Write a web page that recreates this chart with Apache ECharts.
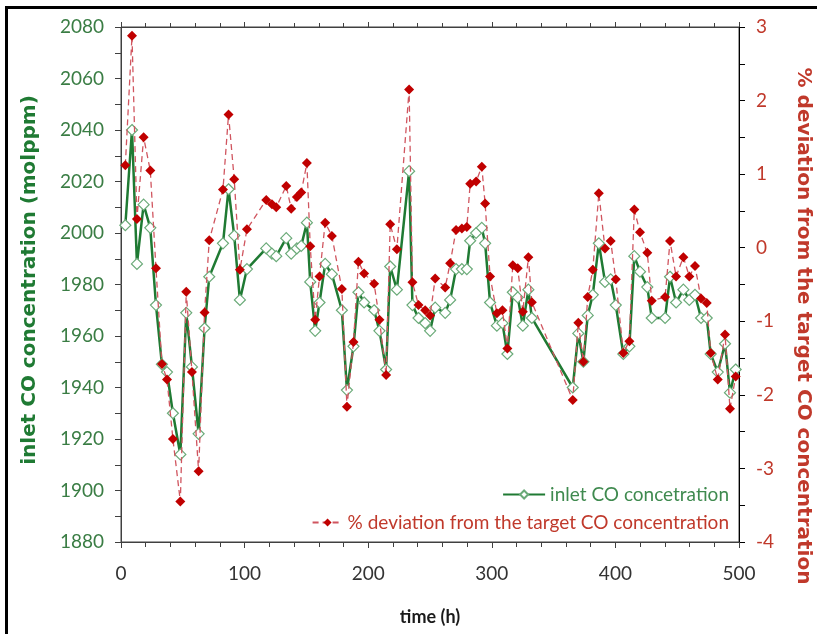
<!DOCTYPE html>
<html>
<head>
<meta charset="utf-8">
<script src="https://cdn.jsdelivr.net/npm/echarts@6/dist/echarts.min.js"></script>
<style>
  html, body { margin: 0; padding: 0; background: #fff; }
  #chart { width: 817px; height: 634px; }
</style>
</head>
<body>
<div id="chart"></div>
<script>
// Sampling times (h)
const timeH = [
  3.5, 8.9, 12.9, 18.3, 23.7, 28.3, 33.1, 37.2, 42.0, 48.0,
  52.8, 57.4, 62.8, 67.6, 71.4, 82.5, 87.0, 91.6, 96.2, 101.9,
  117.5, 122.1, 125.6, 133.7, 137.7, 142.3, 145.8, 150.4, 153.1, 157.1,
  160.6, 165.2, 170.6, 178.7, 182.8, 188.1, 192.1, 196.7, 204.8, 209.1,
  214.5, 217.8, 223.2, 233.1, 235.8, 240.7, 246.1, 250.1, 254.2, 262.3,
  266.3, 271.1, 275.8, 279.8, 282.5, 287.3, 291.9, 294.6, 298.6, 304.1,
  308.6, 312.6, 317.0, 321.0, 325.1, 329.6, 332.4, 365.5, 370.0, 374.1,
  377.6, 381.7, 386.6, 391.6, 396.2, 400.3, 406.4, 411.3, 415.3, 419.9,
  425.8, 429.4, 440.2, 444.2, 449.1, 455.0, 459.8, 464.4, 469.3, 473.9,
  477.1, 482.8, 488.7, 492.7, 497.3
];

// Inlet CO concentration (molppm)
const inletCO = [
  2003, 2040, 1988, 2011, 2002, 1972, 1949, 1946, 1930, 1914,
  1969, 1948, 1922, 1963, 1983, 1996, 2017, 1999, 1974, 1986,
  1994, 1992, 1991, 1998, 1992, 1994, 1995, 2004, 1981, 1962,
  1973, 1988, 1984, 1970, 1939, 1956, 1977, 1973, 1970, 1962,
  1947, 1987, 1978, 2024, 1972, 1967, 1965, 1962, 1971, 1969,
  1974, 1986, 1986, 1986, 1997, 2000, 2002, 1996, 1973, 1964,
  1965, 1953, 1977, 1975, 1964, 1978, 1967, 1940, 1961, 1950,
  1968, 1976, 1996, 1981, 1982, 1972, 1953, 1956, 1991, 1985,
  1979, 1967, 1967, 1983, 1973, 1978, 1974, 1976, 1967, 1967,
  1953, 1946, 1957, 1938, 1947
];

// Deviation from the target CO concentration (%)
const deviationPct = [
  1.12, 2.88, 0.39, 1.50, 1.05, -0.28, -1.58, -1.79, -2.60, -3.45,
  -0.60, -1.69, -3.04, -0.88, 0.10, 0.79, 1.81, 0.93, -0.30, 0.25,
  0.65, 0.59, 0.55, 0.84, 0.53, 0.69, 0.75, 1.15, 0.02, -0.98,
  -0.39, 0.34, 0.16, -0.56, -2.16, -1.28, -0.19, -0.35, -0.49, -0.98,
  -1.73, 0.32, -0.02, 2.15, -0.47, -0.78, -0.85, -0.92, -0.42, -0.54,
  -0.21, 0.24, 0.26, 0.28, 0.87, 0.90, 1.10, 0.60, -0.39, -0.89,
  -0.85, -1.37, -0.24, -0.28, -0.87, -0.13, -0.74, -2.07, -1.02, -1.55,
  -0.67, -0.30, 0.74, -0.01, 0.09, -0.43, -1.43, -1.27, 0.52, 0.21,
  -0.07, -0.72, -0.67, 0.09, -0.39, -0.13, -0.39, -0.25, -0.69, -0.75,
  -1.43, -1.79, -1.18, -2.19, -1.75
];

const seriesNames = ['inlet CO concetration', '% deviation from the target CO concentration'];
const leftTitle = 'inlet CO concentration (molppm)';
const rightTitle = '% deviation from the target CO concentration';

const FONT = 'Lato, "Open Sans", sans-serif';
const TITLE_FONT = 'bold 20px "DejaVu Sans", sans-serif';
const GREEN = '#1f7a33';
const GREEN_TEXT = '#3a7d44';
const RED = '#c00000';
const RED_TEXT = '#c0392b';
const AXIS = '#404040';

const chart = echarts.init(document.getElementById('chart'), null, { renderer: 'canvas' });

const plainNumber = (v) => String(v);

chart.setOption({
  animation: false,
  backgroundColor: '#ffffff',
  grid: {
    left: 121, right: 78, top: 27, bottom: 92, containLabel: false, outerBoundsMode: 'none',
    show: true, borderColor: AXIS, borderWidth: 1, backgroundColor: 'transparent'
  },
  graphic: [
    // frame strips along the top and left edges
    { type: 'rect', shape: { x: 5, y: 6, width: 812, height: 3 }, style: { fill: '#000' }, silent: true },
    { type: 'rect', shape: { x: 5, y: 6, width: 3, height: 628 }, style: { fill: '#000' }, silent: true },
    // axis titles
    {
      type: 'text', x: 30, y: 280, rotation: Math.PI / 2, silent: true,
      style: { text: leftTitle, font: TITLE_FONT, fill: GREEN, align: 'center', verticalAlign: 'middle' }
    },
    {
      type: 'text', x: 803, y: 326, rotation: -Math.PI / 2, silent: true,
      style: { text: rightTitle, font: TITLE_FONT, fill: RED_TEXT, align: 'center', verticalAlign: 'middle' }
    }
  ],
  legend: [
    {
      data: [seriesNames[0]],
      right: 83, top: 480,
      itemWidth: 42, itemHeight: 10,
      textStyle: { color: '#3f8a4f', fontFamily: FONT, fontSize: 19 },
      selectedMode: false
    },
    {
      data: [seriesNames[1]],
      right: 83, top: 508,
      itemWidth: 30, itemHeight: 10,
      textStyle: { color: RED_TEXT, fontFamily: FONT, fontSize: 19 },
      selectedMode: false
    }
  ],
  xAxis: [
    {
      type: 'value', position: 'bottom', min: 0, max: 500, interval: 100,
      name: 'time (h)', nameLocation: 'middle', nameGap: 66,
      nameTextStyle: { color: '#1a1a1a', fontFamily: FONT, fontSize: 18, fontWeight: 'bold' },
      axisLine: { show: true, onZero: false, lineStyle: { color: AXIS, width: 1 } },
      axisTick: { show: true, inside: false, length: 6, lineStyle: { color: AXIS } },
      minorTick: { show: true, splitNumber: 5, length: 5, lineStyle: { color: AXIS } },
      axisLabel: { color: '#333', fontFamily: FONT, fontSize: 19, margin: 22, formatter: plainNumber },
      splitLine: { show: false }
    },
    {
      type: 'value', position: 'top', min: 0, max: 500, interval: 100,
      axisLine: { show: true, onZero: false, lineStyle: { color: AXIS, width: 1 } },
      axisTick: { show: true, inside: false, length: 5, lineStyle: { color: AXIS } },
      minorTick: { show: true, splitNumber: 5, length: 4, lineStyle: { color: AXIS } },
      axisLabel: { show: false },
      splitLine: { show: false }
    }
  ],
  yAxis: [
    {
      type: 'value', position: 'left', min: 1880, max: 2080, interval: 20,
      axisLine: { show: true, onZero: false, lineStyle: { color: AXIS, width: 1 } },
      axisTick: { show: true, inside: false, length: 6, lineStyle: { color: AXIS } },
      minorTick: { show: true, splitNumber: 2, length: 6, lineStyle: { color: AXIS } },
      axisLabel: { color: GREEN_TEXT, fontFamily: FONT, fontSize: 19, margin: 17, formatter: plainNumber },
      splitLine: { show: false }
    },
    {
      type: 'value', position: 'right', min: -4, max: 3, interval: 1,
      axisLine: { show: true, onZero: false, lineStyle: { color: '#000', width: 1 } },
      axisTick: { show: true, inside: false, length: 6, lineStyle: { color: '#000' } },
      minorTick: { show: true, splitNumber: 2, length: 6, lineStyle: { color: '#000' } },
      axisLabel: { color: RED_TEXT, fontFamily: FONT, fontSize: 19, margin: 17, formatter: plainNumber },
      splitLine: { show: false }
    }
  ],
  series: [
    {
      name: seriesNames[0], type: 'line', xAxisIndex: 0, yAxisIndex: 0,
      data: timeH.map((t, i) => [t, inletCO[i]]),
      symbol: 'diamond', symbolSize: 11, showAllSymbol: true,
      lineStyle: { color: GREEN, width: 2.5 },
      itemStyle: { color: '#ffffff', borderColor: '#6aaa78', borderWidth: 1.2 },
      z: 2
    },
    {
      name: seriesNames[1], type: 'line', xAxisIndex: 0, yAxisIndex: 1,
      data: timeH.map((t, i) => [t, deviationPct[i]]),
      symbol: 'diamond', symbolSize: 10, showAllSymbol: true,
      lineStyle: { color: '#d0555f', width: 1.3, type: [6, 4] },
      itemStyle: { color: RED, borderColor: RED, borderWidth: 0 },
      z: 3
    }
  ]
});
</script>
</body>
</html>
